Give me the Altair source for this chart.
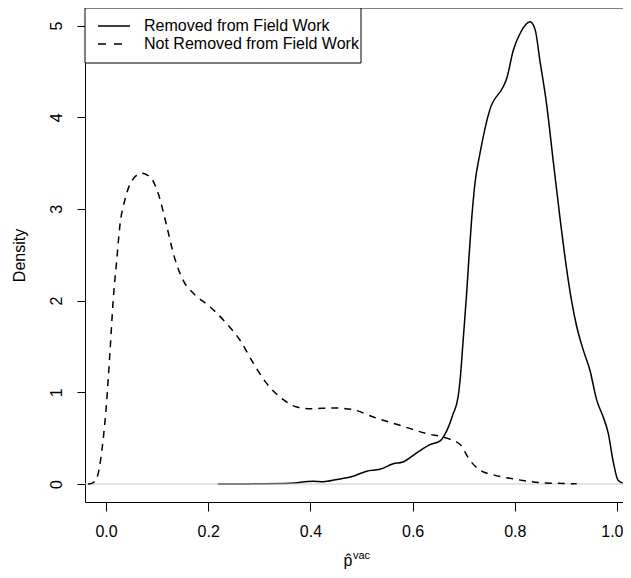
import altair as alt
import pandas as pd

# ---- data ----
removed_x = [0.219, 0.30, 0.36, 0.405, 0.425, 0.452, 0.484, 0.51, 0.536, 0.562, 0.581, 0.608,
             0.634, 0.654, 0.662, 0.670, 0.679, 0.689, 0.694, 0.698, 0.702, 0.706, 0.710, 0.715,
             0.722, 0.732, 0.751, 0.777, 0.784, 0.797, 0.81, 0.83, 0.84, 0.849, 0.862, 0.875,
             0.888, 0.901, 0.911, 0.921, 0.934, 0.947, 0.96, 0.973, 0.983, 0.993, 1.002, 1.012,
             1.02]
removed_y = [0.0, 0.002, 0.007, 0.03, 0.025, 0.05, 0.085, 0.14, 0.16, 0.22, 0.24, 0.34,
             0.43, 0.47, 0.53, 0.62, 0.76, 0.95, 1.2, 1.5, 1.8, 2.1, 2.45, 2.85,
             3.28, 3.61, 4.08, 4.33, 4.42, 4.73, 4.91, 5.04, 4.95, 4.62, 4.15, 3.53,
             2.92, 2.36, 2.0, 1.72, 1.46, 1.24, 0.92, 0.73, 0.55, 0.23, 0.04, 0.007,
             0.0]

not_removed_x = [-0.035, -0.028, -0.018, -0.008, 0.0, 0.008, 0.014, 0.021, 0.027, 0.037, 0.05,
                 0.07, 0.089, 0.102, 0.119, 0.132, 0.151, 0.171, 0.204, 0.236, 0.262, 0.288,
                 0.314, 0.347, 0.373, 0.40, 0.445, 0.484, 0.523, 0.575, 0.627, 0.667, 0.693,
                 0.712, 0.732, 0.758, 0.803, 0.849, 0.921]
not_removed_y = [0.0, 0.007, 0.065, 0.37, 0.81, 1.46, 2.0, 2.44, 2.81, 3.10, 3.30,
                 3.39, 3.33, 3.17, 2.81, 2.51, 2.22, 2.08, 1.93, 1.75, 1.57, 1.32,
                 1.10, 0.92, 0.84, 0.82, 0.83, 0.81, 0.73, 0.64, 0.55, 0.50, 0.43,
                 0.26, 0.15, 0.10, 0.05, 0.015, 0.003]

legend_labels = ["Removed from Field Work", "Not Removed from Field Work"]
x_ticks = [0.0, 0.2, 0.4, 0.6, 0.8, 1.0]
y_ticks = [0, 1, 2, 3, 4, 5]
y_title = "Density"
x_title_main = "p\u0302"
x_title_sup = "vac"

# ---- layout ----
W, H = 538, 494
FONT = "Liberation Sans"
X_DOMAIN = [-0.0411, 1.0117]
Y_DOMAIN = [-0.1963, 5.191]

df = pd.concat([
    pd.DataFrame({"x": removed_x, "y": removed_y, "group": legend_labels[0]}),
    pd.DataFrame({"x": not_removed_x, "y": not_removed_y, "group": legend_labels[1]}),
], ignore_index=True)

xscale = alt.Scale(domain=X_DOMAIN, nice=False, zero=False)
yscale = alt.Scale(domain=Y_DOMAIN, nice=False, zero=False)

xaxis = alt.Axis(values=x_ticks, format=".1f", title=None, grid=False, tickSize=9,
                 labelPadding=12, labelFontSize=16, labelFont=FONT, labelColor="black",
                 tickColor="black", domainColor="black", labelFlush=10, labelFlushOffset=6,
                 labelOverlap=False)
yaxis = alt.Axis(values=y_ticks, format="d", title=y_title, grid=False, tickSize=8,
                 labelPadding=16, labelFontSize=16, labelFont=FONT, labelColor="black",
                 labelAngle=270, labelAlign="center", labelBaseline="alphabetic",
                 tickColor="black", domainColor="black", labelOverlap=False,
                 titleFont=FONT, titleFontSize=16, titleFontWeight="normal", titleColor="black",
                 titleAngle=270, titleX=-61, titleY=H / 2, titleAlign="center",
                 titleBaseline="alphabetic")

base = alt.Chart(df)

solid = base.transform_filter(alt.datum.group == legend_labels[0]).mark_line(
    color="black", strokeWidth=1.5, interpolate="monotone"
).encode(
    x=alt.X("x:Q", scale=xscale, axis=xaxis),
    y=alt.Y("y:Q", scale=yscale, axis=yaxis),
    order="x:Q",
)

zero_line = alt.Chart(pd.DataFrame({"z": [0]})).mark_rule(color="#c8c8c8", strokeWidth=1).encode(
    y=alt.Y("z:Q", scale=yscale)
)

dashed = base.transform_filter(alt.datum.group == legend_labels[1]).mark_line(
    color="black", strokeWidth=1.5, interpolate="monotone", strokeDash=[7, 6]
).encode(
    x=alt.X("x:Q", scale=xscale),
    y=alt.Y("y:Q", scale=yscale),
    order="x:Q",
)

top_border = alt.Chart(pd.DataFrame({"a": [0]})).mark_rule(color="black", strokeWidth=1).encode(
    x=alt.value(0), x2=alt.value(W + 10), y=alt.value(0)
)

legend_box = alt.Chart(pd.DataFrame({"a": [0]})).mark_rect(
    fill="white", stroke="black", strokeWidth=1
).encode(x=alt.value(0), x2=alt.value(276), y=alt.value(0), y2=alt.value(55))

leg_rows = [18, 36]
leg_dash = [[1, 0], [8, 8]]
legend_layers = []
for lab, ry, dash in zip(legend_labels, leg_rows, leg_dash):
    d = pd.DataFrame({"label": [lab]})
    legend_layers.append(
        alt.Chart(d).mark_rule(color="black", strokeWidth=1.5, strokeDash=dash).encode(
            x=alt.value(13), x2=alt.value(45), y=alt.value(ry)
        )
    )
    legend_layers.append(
        alt.Chart(d).mark_text(align="left", baseline="middle", font=FONT, fontSize=16,
                               color="black").encode(
            x=alt.value(59), y=alt.value(ry), text="label:N"
        )
    )

xt = pd.DataFrame({"main": [x_title_main], "sup": [x_title_sup]})
x_title1 = alt.Chart(xt).mark_text(align="center", baseline="alphabetic", font=FONT,
                                   fontSize=16, color="black").encode(
    x=alt.value(263), y=alt.value(558), text="main:N")
x_title2 = alt.Chart(xt).mark_text(align="left", baseline="alphabetic", font=FONT,
                                   fontSize=11, color="black").encode(
    x=alt.value(268), y=alt.value(551), text="sup:N")

chart = alt.layer(
    solid, zero_line, dashed, top_border, legend_box, *legend_layers, x_title1, x_title2
).properties(
    width=W, height=H,
    autosize=alt.AutoSizeParams(type="none"),
    padding={"left": 77, "top": 0, "right": 0, "bottom": 68},
).configure_view(stroke="transparent")

chart.save("out.html", embed_options={"renderer": "svg", "actions": False})
